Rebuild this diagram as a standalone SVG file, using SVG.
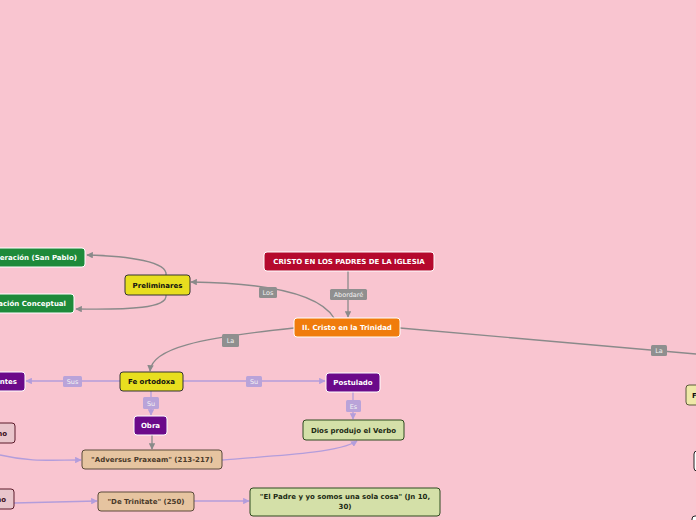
<svg xmlns="http://www.w3.org/2000/svg" width="696" height="520" viewBox="0 0 696 520">
<defs>
<marker id="ag" viewBox="0 0 10 10" refX="9" refY="5" markerWidth="5" markerHeight="5" orient="auto"><path d="M0,0 L10,5 L0,10 z" fill="#8a8a8a"/></marker>
<marker id="ap" viewBox="0 0 10 10" refX="9" refY="5" markerWidth="5" markerHeight="5" orient="auto"><path d="M0,0 L10,5 L0,10 z" fill="#b39ddb"/></marker>
<style>
.t{font-family:"DejaVu Sans",Verdana,sans-serif;font-size:7px;font-weight:bold;text-anchor:middle}
.w{fill:#ffffff}
.k{fill:#111111}
.lab{font-family:"DejaVu Sans",Verdana,sans-serif;font-size:6.5px;text-anchor:middle;fill:#f2f2f2}
.cg{fill:none;stroke:#8a8a8a;stroke-width:1.3}
.cp{fill:none;stroke:#b39ddb;stroke-width:1.3}
.lg{fill:#8f8f8f}
.lp{fill:#b9a3d9}
</style>
</defs>
<rect x="0" y="0" width="696" height="520" fill="#f9c5d0"/>
<g id="connectors">
<path class="cg" d="M348,271 L348,317" marker-end="url(#ag)"/>
<rect class="lg" x="330" y="289" width="37" height="11" rx="1.5"/><text class="lab" x="348.5" y="297">Abordaré</text>
<path class="cg" d="M334,318 C320,295 270,283 191,282" marker-end="url(#ag)"/>
<rect class="lg" x="259" y="287" width="18" height="11" rx="1.5"/><text class="lab" x="268" y="295">Los</text>
<path class="cg" d="M166,275 C168,262 130,256 87,255" marker-end="url(#ag)"/>
<path class="cg" d="M166,295 C168,308 130,310 76,309" marker-end="url(#ag)"/>
<path class="cg" d="M294,328 C200,338 152,348 150,371" marker-end="url(#ag)"/>
<rect class="lg" x="222" y="334" width="17" height="13" rx="1.5"/><text class="lab" x="230.5" y="343">La</text>
<path class="cg" d="M400,328 L696,354"/>
<rect class="lg" x="651" y="345" width="16" height="11" rx="1.5"/><text class="lab" x="659" y="353">La</text>
<path class="cp" d="M120,381 L26,381" marker-end="url(#ap)"/>
<rect class="lp" x="63" y="376" width="19" height="11" rx="1.5"/><text class="lab" x="72.5" y="384">Sus</text>
<path class="cp" d="M183,381 L325,381" marker-end="url(#ap)"/>
<rect class="lp" x="246" y="376" width="16" height="11" rx="1.5"/><text class="lab" x="254" y="384">Su</text>
<path class="cp" d="M151,391 L151,415" marker-end="url(#ap)"/>
<rect class="lp" x="143" y="397" width="16" height="12" rx="1.5"/><text class="lab" x="151" y="405.5">Su</text>
<path class="cg" d="M152,435 L152,449" marker-end="url(#ag)"/>
<path class="cp" d="M353,392 L353,419" marker-end="url(#ap)"/>
<rect class="lp" x="346" y="400" width="15" height="12" rx="1.5"/><text class="lab" x="353.5" y="408.5">Es</text>
<path class="cp" d="M0,455 C30,462 50,460 81,460" marker-end="url(#ap)"/>
<path class="cp" d="M222,460 C290,455 340,452 357,441" marker-end="url(#ap)"/>
<path class="cp" d="M14,503 L97,501" marker-end="url(#ap)"/>
<path class="cp" d="M194,501 L249,501" marker-end="url(#ap)"/>
</g>
<g id="n-root"><rect x="264" y="252" width="170" height="19" rx="3" fill="#b5092d" stroke="#ffffff" stroke-width="1"/><text class="t w" x="349" y="264">CRISTO EN LOS PADRES DE LA IGLESIA</text></g>
<g id="n-trinidad"><rect x="294" y="318" width="106" height="19" rx="3" fill="#f07c0c" stroke="#ffffff" stroke-width="1"/><text class="t w" x="347" y="330">II. Cristo en la Trinidad</text></g>
<g id="n-prelim"><rect x="125" y="275" width="65" height="20" rx="3" fill="#e8de1f" stroke="#333333" stroke-width="1"/><text class="t k" x="157.5" y="287.5">Preliminares</text></g>
<g id="n-green1"><rect x="-40" y="248" width="125" height="19" rx="3" fill="#1e8a3a" stroke="#ffffff" stroke-width="1"/><text class="t w" x="77" y="260" style="text-anchor:end">eración (San Pablo)</text></g>
<g id="n-green2"><rect x="-40" y="294" width="114" height="19" rx="3" fill="#1e8a3a" stroke="#ffffff" stroke-width="1"/><text class="t w" x="66" y="306" style="text-anchor:end">ación Conceptual</text></g>
<g id="n-fe"><rect x="120" y="372" width="63" height="19" rx="3" fill="#e8de1f" stroke="#333333" stroke-width="1"/><text class="t k" x="151.5" y="384">Fe ortodoxa</text></g>
<g id="n-ntes"><rect x="-40" y="372" width="65" height="19" rx="3" fill="#6b0a8a" stroke="#ffffff" stroke-width="1"/><text class="t w" x="17" y="384" style="text-anchor:end">ntes</text></g>
<g id="n-postulado"><rect x="326" y="373" width="54" height="19" rx="3" fill="#6b0a8a" stroke="#ffffff" stroke-width="1"/><text class="t w" x="353" y="385">Postulado</text></g>
<g id="n-obra"><rect x="134" y="416" width="33" height="19" rx="3" fill="#6b0a8a" stroke="#ffffff" stroke-width="1"/><text class="t w" x="150.5" y="428">Obra</text></g>
<g id="n-dios"><rect x="303" y="420" width="101" height="20" rx="3" fill="#d4e0a8" stroke="#2d4a1e" stroke-width="1"/><text class="t" x="353.5" y="432.5" fill="#1c2a14">Dios produjo el Verbo</text></g>
<g id="n-adversus"><rect x="82" y="450" width="140" height="19" rx="3" fill="#e6c4a0" stroke="#5a4a3a" stroke-width="1"/><text class="t" x="152" y="462" fill="#4a3a2a">"Adversus Praxeam" (213-217)</text></g>
<g id="n-trinitate"><rect x="98" y="492" width="96" height="19" rx="3" fill="#e6c4a0" stroke="#5a4a3a" stroke-width="1"/><text class="t" x="146" y="504" fill="#4a3a2a">"De Trinitate" (250)</text></g>
<g id="n-padre"><rect x="250" y="488" width="190" height="28" rx="3" fill="#d4e0a8" stroke="#2d4a1e" stroke-width="1"/><text class="t" x="345" y="499" fill="#1c2a14">"El Padre y yo somos una sola cosa" (Jn 10,</text><text class="t" x="345" y="509" fill="#1c2a14">30)</text></g>
<g id="n-left1"><rect x="-40" y="423" width="55" height="20" rx="3" fill="#e9c6cc" stroke="#5a1a2a" stroke-width="1"/><text class="t" x="7" y="435.5" fill="#3a1020" style="text-anchor:end">no</text></g>
<g id="n-left2"><rect x="-40" y="489" width="54" height="20" rx="3" fill="#e9c6cc" stroke="#5a1a2a" stroke-width="1"/><text class="t" x="6" y="501.5" fill="#3a1020" style="text-anchor:end">no</text></g>
<g id="n-right1"><rect x="686" y="385" width="40" height="20" rx="3" fill="#efe8a8" stroke="#5a5a3a" stroke-width="1"/><text class="t k" x="692" y="397.5" style="text-anchor:start">F</text></g>
<g id="n-right2"><rect x="694" y="451" width="40" height="20" rx="3" fill="#ffffff" stroke="#222222" stroke-width="1"/></g>
<g id="n-right3"><rect x="692" y="516" width="40" height="20" rx="3" fill="#ffffff" stroke="#222222" stroke-width="1"/></g>
</svg>
